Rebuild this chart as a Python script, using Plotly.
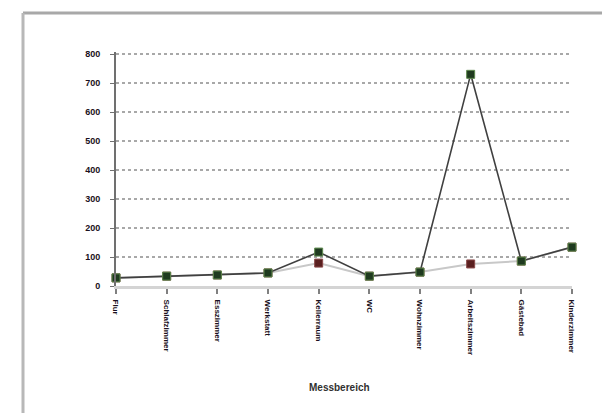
import plotly.graph_objects as go

categories = ["Flur", "Schlafzimmer", "Esszimmer", "Werkstatt", "Kellerraum",
              "WC", "Wohnzimmer", "Arbeitszimmer", "Gästebad", "Kinderzimmer"]
series_a = [28, 34, 38, 45, 117, 34, 48, 730, 86, 134]
series_b = [28, 34, 38, 45, 79, 34, 48, 76, 86, 134]
y_ticks = [0, 100, 200, 300, 400, 500, 600, 700, 800]
x_title = "Messbereich"

fig = go.Figure()
fig.add_trace(go.Scatter(
    x=categories, y=series_b, mode="lines+markers",
    line=dict(color="#c8c8c8", width=2),
    marker=dict(symbol="square", size=8, color="#5a1f1f",
                line=dict(color="#8a4a4a", width=1)),
    cliponaxis=False, showlegend=False))
fig.add_trace(go.Scatter(
    x=categories, y=series_a, mode="lines+markers",
    line=dict(color="#404040", width=1.6),
    marker=dict(symbol="square", size=8, color="#1f3a1f",
                line=dict(color="#5e8a4e", width=1)),
    cliponaxis=False, showlegend=False))

L, R, T, B = 116, 30, 52, 127
W, H = 602, 413
pw = W - L - R
ph = H - T - B

fig.update_layout(
    width=W, height=H,
    margin=dict(l=L, r=R, t=T, b=B, pad=0),
    paper_bgcolor="white", plot_bgcolor="white",
    font=dict(family="Liberation Sans, Arial, sans-serif", color="black"),
    xaxis=dict(
        type="category", range=[0, len(categories) - 1],
        showgrid=False, zeroline=False,
        showline=True, linecolor="#d4d4d4", linewidth=3,
        ticks="outside", ticklen=5, tickcolor="#808080", tickwidth=2,
        tickangle=90, tickfont=dict(size=8, color="#1a1020", weight="bold"),
        ticklabelstandoff=4),
    yaxis=dict(
        range=[0, 807], tickvals=y_ticks,
        showgrid=True, gridcolor="#a8a8a8", griddash="dot", gridwidth=1.5,
        zeroline=False,
        showline=True, linecolor="#707070", linewidth=2,
        ticks="outside", ticklen=4, tickcolor="#707070",
        tickfont=dict(size=9, color="#1a1020", weight="bold"),
        ticklabelstandoff=8),
    annotations=[dict(
        text="<b>" + x_title + "</b>", xref="paper", yref="paper",
        x=(339 - L) / pw, y=(H - B - 387) / ph, xanchor="center", yanchor="middle",
        showarrow=False, font=dict(size=10, color="#303030"))],
    shapes=[
        dict(type="line", xref="paper", yref="paper",
             x0=(23 - L) / pw, x1=(W + 10 - L) / pw,
             y0=(H - B - 13) / ph, y1=(H - B - 13) / ph,
             line=dict(color="#a8a8a8", width=3)),
        dict(type="line", xref="paper", yref="paper",
             x0=(23 - L) / pw, x1=(23 - L) / pw,
             y0=(H - B - 13) / ph, y1=(H - B - H - 10) / ph,
             line=dict(color="#b8b8b8", width=3)),
    ],
)

fig.write_html("out.html")
